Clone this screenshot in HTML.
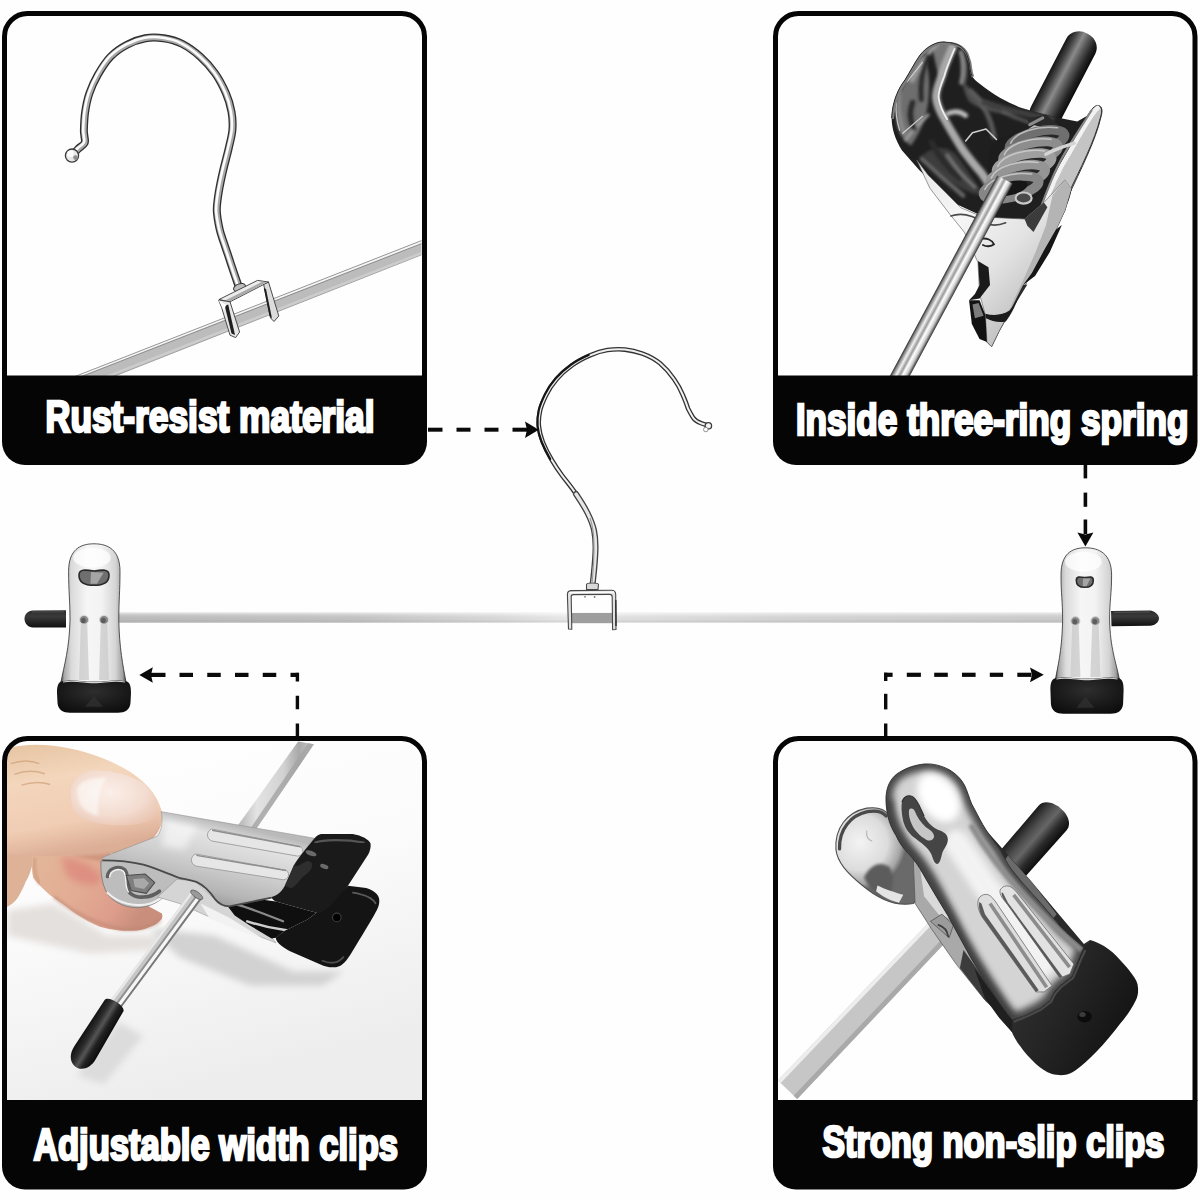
<!DOCTYPE html>
<html>
<head>
<meta charset="utf-8">
<title>Hanger features</title>
<style>
html,body{margin:0;padding:0;background:#fefefe;}
body{width:1200px;height:1200px;overflow:hidden;font-family:"Liberation Sans",sans-serif;}
svg{display:block;}
.lbl{font-family:"Liberation Sans",sans-serif;font-weight:bold;font-size:44.5px;fill:#fff;stroke:#fff;stroke-width:2.7px;stroke-linejoin:miter;stroke-miterlimit:2.5;}
</style>
</head>
<body>
<svg width="1200" height="1200" viewBox="0 0 1200 1200">
<defs>
  <clipPath id="c1"><rect x="7" y="16" width="415" height="360"/></clipPath>
  <clipPath id="c2"><rect x="778" y="16" width="414.500" height="360"/></clipPath>
  <clipPath id="c3"><rect x="7" y="741" width="415" height="360"/></clipPath>
  <clipPath id="c4"><rect x="778" y="741" width="414.500" height="360"/></clipPath>
  
  <linearGradient id="barG" x1="118" y1="0" x2="1062" y2="0" gradientUnits="userSpaceOnUse">
    <stop offset="0" stop-color="#c0c0c0"/><stop offset="0.25" stop-color="#c8c8c8"/><stop offset="0.4" stop-color="#dedede"/><stop offset="0.475" stop-color="#eeeeee"/><stop offset="0.53" stop-color="#e6e6e6"/><stop offset="0.7" stop-color="#dadada"/><stop offset="1" stop-color="#d0d0d0"/>
  </linearGradient>
  <linearGradient id="barV" x1="0" y1="0" x2="0" y2="1">
    <stop offset="0" stop-color="#fff" stop-opacity="0.55"/><stop offset="0.25" stop-color="#fff" stop-opacity="0.1"/><stop offset="0.7" stop-color="#000" stop-opacity="0.03"/><stop offset="1" stop-color="#fff" stop-opacity="0.35"/>
  </linearGradient>
  <linearGradient id="clipBody" x1="0" y1="0" x2="1" y2="0">
    <stop offset="0" stop-color="#4a4a4a"/><stop offset="0.05" stop-color="#a9a9a9"/><stop offset="0.16" stop-color="#dadada"/><stop offset="0.4" stop-color="#f6f6f6"/><stop offset="0.62" stop-color="#f3f3f3"/><stop offset="0.84" stop-color="#d4d4d4"/><stop offset="0.95" stop-color="#a0a0a0"/><stop offset="1" stop-color="#3c3c3c"/>
  </linearGradient>
  <linearGradient id="capG" x1="0" y1="0" x2="0" y2="1">
    <stop offset="0" stop-color="#2b2b2b"/><stop offset="0.35" stop-color="#3a3a3a"/><stop offset="1" stop-color="#101010"/>
  </linearGradient>
  <radialGradient id="footG" cx="0.5" cy="0.35" r="0.7">
    <stop offset="0" stop-color="#2e2e2e"/><stop offset="1" stop-color="#0d0d0d"/>
  </radialGradient>
  <filter id="soft" x="-5%" y="-5%" width="110%" height="110%"><feGaussianBlur stdDeviation="0.45"/></filter>

  <linearGradient id="p2rod" x1="0" y1="0" x2="1" y2="0">
    <stop offset="0" stop-color="#2a2a2a"/><stop offset="0.12" stop-color="#8c8c8c"/><stop offset="0.3" stop-color="#f2f2f2"/><stop offset="0.48" stop-color="#9a9a9a"/><stop offset="0.62" stop-color="#ffffff"/><stop offset="0.8" stop-color="#d0d0d0"/><stop offset="0.93" stop-color="#6a6a6a"/><stop offset="1" stop-color="#2a2a2a"/>
  </linearGradient>
  <linearGradient id="p2handle" x1="0" y1="0" x2="1" y2="0">
    <stop offset="0" stop-color="#141414"/><stop offset="0.2" stop-color="#444"/><stop offset="0.42" stop-color="#8a8a8a"/><stop offset="0.6" stop-color="#5a5a5a"/><stop offset="0.82" stop-color="#262626"/><stop offset="1" stop-color="#0b0b0b"/>
  </linearGradient>
  <linearGradient id="p2face" x1="300" y1="520" x2="700" y2="900" gradientUnits="userSpaceOnUse">
    <stop offset="0" stop-color="#e9e9e9"/><stop offset="0.35" stop-color="#f6f6f6"/><stop offset="0.7" stop-color="#e2e2e2"/><stop offset="1" stop-color="#c4c4c4"/>
  </linearGradient>
  <linearGradient id="p2right" x1="640" y1="600" x2="800" y2="680" gradientUnits="userSpaceOnUse">
    <stop offset="0" stop-color="#f0f0f0"/><stop offset="0.45" stop-color="#c9c9c9"/><stop offset="0.8" stop-color="#8a8a8a"/><stop offset="1" stop-color="#3a3a3a"/>
  </linearGradient>
  <radialGradient id="p2dark" cx="380" cy="330" r="330" gradientUnits="userSpaceOnUse">
    <stop offset="0" stop-color="#2c2c2c"/><stop offset="0.6" stop-color="#151515"/><stop offset="1" stop-color="#0a0a0a"/>
  </radialGradient>
  <linearGradient id="p2coil" x1="0" y1="0" x2="0" y2="1">
    <stop offset="0" stop-color="#5a5a5a"/><stop offset="0.3" stop-color="#c8c8c8"/><stop offset="0.55" stop-color="#8a8a8a"/><stop offset="1" stop-color="#2a2a2a"/>
  </linearGradient>
  <filter id="b2" x="-10%" y="-10%" width="120%" height="120%"><feGaussianBlur stdDeviation="2.2"/></filter>
  <filter id="b4" x="-10%" y="-10%" width="120%" height="120%"><feGaussianBlur stdDeviation="5"/></filter>
  <filter id="b8" x="-20%" y="-20%" width="140%" height="140%"><feGaussianBlur stdDeviation="10"/></filter>

  <linearGradient id="p3bg" x1="0" y1="0" x2="0.3" y2="1">
    <stop offset="0" stop-color="#ffffff"/><stop offset="0.5" stop-color="#fbfbfb"/><stop offset="1" stop-color="#ededee"/>
  </linearGradient>
  <linearGradient id="p3thumb" x1="0" y1="0" x2="0.25" y2="1">
    <stop offset="0" stop-color="#e6c4a2"/><stop offset="0.35" stop-color="#f3d6bc"/><stop offset="0.75" stop-color="#f0cdb4"/><stop offset="1" stop-color="#dcae96"/>
  </linearGradient>
  <radialGradient id="p3nail" cx="0.45" cy="0.4" r="0.7">
    <stop offset="0" stop-color="#fbefe9"/><stop offset="0.6" stop-color="#f3dcd0"/><stop offset="1" stop-color="#e9c2ae"/>
  </radialGradient>
  <linearGradient id="p3finger" x1="0" y1="0" x2="1" y2="0.4">
    <stop offset="0" stop-color="#e3b899"/><stop offset="0.5" stop-color="#e2ab93"/><stop offset="0.8" stop-color="#dd9d8b"/><stop offset="1" stop-color="#c98f7c"/>
  </linearGradient>
  <linearGradient id="p3metal" x1="560" y1="230" x2="500" y2="480" gradientUnits="userSpaceOnUse">
    <stop offset="0" stop-color="#b9b9b9"/><stop offset="0.15" stop-color="#e3e3e3"/><stop offset="0.45" stop-color="#cfcfcf"/><stop offset="0.75" stop-color="#b4b4b4"/><stop offset="1" stop-color="#858585"/>
  </linearGradient>
  <linearGradient id="p3rodA" x1="0" y1="0" x2="1" y2="0">
    <stop offset="0" stop-color="#b5b5b5"/><stop offset="0.25" stop-color="#e3e3e3"/><stop offset="0.6" stop-color="#d2d2d2"/><stop offset="0.8" stop-color="#a9a9a9"/><stop offset="1" stop-color="#c8c8c8"/>
  </linearGradient>
  <linearGradient id="p3rodB" x1="0" y1="0" x2="1" y2="0">
    <stop offset="0" stop-color="#8d8d8d"/><stop offset="0.2" stop-color="#dadada"/><stop offset="0.5" stop-color="#fafafa"/><stop offset="0.75" stop-color="#c4c4c4"/><stop offset="1" stop-color="#6d6d6d"/>
  </linearGradient>
  <linearGradient id="p3cap" x1="0" y1="0" x2="1" y2="0">
    <stop offset="0" stop-color="#101010"/><stop offset="0.3" stop-color="#2c2c2c"/><stop offset="0.5" stop-color="#555"/><stop offset="0.7" stop-color="#222"/><stop offset="1" stop-color="#0a0a0a"/>
  </linearGradient>

  <linearGradient id="p4jaw" x1="330" y1="300" x2="640" y2="120" gradientUnits="userSpaceOnUse">
    <stop offset="0" stop-color="#5a5a5a"/><stop offset="0.08" stop-color="#a2a2a2"/><stop offset="0.25" stop-color="#d6d6d6"/><stop offset="0.55" stop-color="#f4f4f4"/><stop offset="0.8" stop-color="#dcdcdc"/><stop offset="0.95" stop-color="#9a9a9a"/><stop offset="1" stop-color="#555"/>
  </linearGradient>
  <linearGradient id="p4jaw2" x1="520" y1="640" x2="820" y2="460" gradientUnits="userSpaceOnUse">
    <stop offset="0" stop-color="#666"/><stop offset="0.1" stop-color="#b7b7b7"/><stop offset="0.3" stop-color="#e9e9e9"/><stop offset="0.6" stop-color="#f2f2f2"/><stop offset="0.85" stop-color="#c9c9c9"/><stop offset="1" stop-color="#7a7a7a"/>
  </linearGradient>
  <radialGradient id="p4back" cx="250" cy="300" r="130" gradientUnits="userSpaceOnUse">
    <stop offset="0" stop-color="#f3f3f3"/><stop offset="0.6" stop-color="#dcdcdc"/><stop offset="0.88" stop-color="#a6a6a6"/><stop offset="1" stop-color="#6a6a6a"/>
  </radialGradient>
  <linearGradient id="p4rod" x1="0" y1="0" x2="1" y2="0">
    <stop offset="0" stop-color="#b9b9b9"/><stop offset="0.15" stop-color="#e6e6e6"/><stop offset="0.5" stop-color="#d3d3d3"/><stop offset="0.85" stop-color="#c2c2c2"/><stop offset="1" stop-color="#8f8f8f"/>
  </linearGradient>
  <linearGradient id="p4handle" x1="0" y1="0" x2="1" y2="0">
    <stop offset="0" stop-color="#1a1a1a"/><stop offset="0.3" stop-color="#4d4d4d"/><stop offset="0.5" stop-color="#666"/><stop offset="0.75" stop-color="#2b2b2b"/><stop offset="1" stop-color="#0c0c0c"/>
  </linearGradient>
  <linearGradient id="p4rub" x1="700" y1="700" x2="1000" y2="860" gradientUnits="userSpaceOnUse">
    <stop offset="0" stop-color="#2e2e2e"/><stop offset="0.4" stop-color="#242424"/><stop offset="1" stop-color="#121212"/>
  </linearGradient>
  <clipPath id="p4jawclip"><path d="M324 170 C326 135 345 112 363 103 C385 90 405 84 430 81 C456 79 480 86 502 98 C524 112 540 130 548 152 C556 172 560 190 569 204 C580 224 590 245 603 265 C615 285 628 302 642 321 C650 335 656 348 664 360 C675 378 686 392 698 405 C715 425 735 446 753 466 C772 488 790 510 809 533 C830 556 850 570 876 594 L865 617 L854 645 L843 673 L809 700 L793 717 L782 740 L754 762 L709 784 L675 795 L642 751 L603 690 L564 628 L530 566 L497 505 L463 449 L430 393 C415 365 400 345 385 330 C372 316 360 300 352 281 C340 262 330 240 326 210 C324 195 323 182 324 170 Z"/></clipPath>
  <clipPath id="p2intclip"><path d="M200 350 C203 290 225 250 243 227 C260 200 275 170 292 146 C305 130 318 120 331 113.500 C345 106 358 103 370 104 C390 105 408 108 421.600 116.700 C432 124 440 134 444.300 146 C450 160 453 175 454 188 C455 198 457 206 460.500 214 C468 225 476 233 486.500 240 C505 255 528 270 551 285 C575 298 598 309 622 318 C682 336 742 350 802 362 L840 340 L800 430 L730 560 L670 690 L640 700 L520 680 L400 625 L290 520 L233 455 C212 420 200 385 200 350 Z"/></clipPath>
  <!--DEFS-->
</defs>
<rect x="0" y="0" width="1200" height="1200" fill="#fefefe"/>

<!-- ===== centre hanger ===== -->
<g id="hanger">
<rect x="118" y="612.6" width="944" height="10.4" fill="url(#barG)"/>
<rect x="118" y="612.6" width="944" height="10.4" fill="url(#barV)"/>
<rect x="571" y="613" width="41.5" height="10.2" fill="#9e9e9e"/>
<path d="M708.1 425.6 C705 424.6 703 424 701 423.2 C697 421.6 694.5 419.8 693 417.5 C690.5 413.5 689.5 411.5 688 408.5 C686 402 684.5 399 682.6 394.5 C680 388 677.5 384 674 379 C670 373 666 368.5 660 363.3 C654.5 358.8 649 356 642.5 353.6 C636.5 351.5 631 350.2 625 349.6 C619 349 613.5 349.2 607.5 350.1 C601.5 351 596 352.8 590 355.4 C584 358 578 361 572.5 365 C566.5 369.3 561.5 373.5 556.8 379 C552.5 384 549 389 546.3 394.8 C543.5 400.5 541.4 405 540.1 410.5 C538.9 416 538.4 421 538.9 426.3 C539.4 432 540.8 437 542.8 442 C545.2 448 548 453.5 551.5 459.5 C555 465.5 558 470 562 475.3 C567 482 571 486.5 576 494 C581 501.5 584 506 587.5 513 C591 520 592.6 524 594 530 C595.6 537.5 595.8 545 595.4 553 C595 562 594.2 570 593.2 579 L592.5 585" fill="none" stroke="#333333" stroke-width="4.6" stroke-linecap="round"/>
<path d="M708.1 425.6 C705 424.6 703 424 701 423.2 C697 421.6 694.5 419.8 693 417.5 C690.5 413.5 689.5 411.5 688 408.5 C686 402 684.5 399 682.6 394.5 C680 388 677.5 384 674 379 C670 373 666 368.5 660 363.3 C654.5 358.8 649 356 642.5 353.6 C636.5 351.5 631 350.2 625 349.6 C619 349 613.5 349.2 607.5 350.1 C601.5 351 596 352.8 590 355.4 C584 358 578 361 572.5 365 C566.5 369.3 561.5 373.5 556.8 379 C552.5 384 549 389 546.3 394.8 C543.5 400.5 541.4 405 540.1 410.5 C538.9 416 538.4 421 538.9 426.3 C539.4 432 540.8 437 542.8 442 C545.2 448 548 453.5 551.5 459.5 C555 465.5 558 470 562 475.3 C567 482 571 486.5 576 494 C581 501.5 584 506 587.5 513 C591 520 592.6 524 594 530 C595.6 537.5 595.8 545 595.4 553 C595 562 594.2 570 593.2 579 L592.5 585" fill="none" stroke="#f0f0f0" stroke-width="2.0" stroke-linecap="round"/>
<path d="M590 355.4 C584 358 578 361 572.500 365 C566.500 369.300 561.500 373.500 556.800 379 C552.500 384 549 389 546.300 394.800 C543.500 400.500 541.400 405 540.100 410.500 C538.900 416 538.400 421 538.900 426.300 C539.400 432 540.800 437 542.800 442 C545.200 448 548 453.500 551.500 459.500" fill="none" stroke="#161616" stroke-width="2.2" stroke-linecap="round" transform="translate(-1.3,-0.5)"/>
<path d="M576 494 C581 501.5 584 506 587.5 513 C591 520 592.6 524 594 530 C595.6 537.5 595.8 545 595.4 553 C595 562 594.2 570 593.2 579 L592.6 584" fill="none" stroke="#444" stroke-width="6.0" stroke-linecap="round"/>
<path d="M576 494 C581 501.5 584 506 587.5 513 C591 520 592.6 524 594 530 C595.6 537.5 595.8 545 595.4 553 C595 562 594.2 570 593.2 579 L592.6 584" fill="none" stroke="#e6e6e6" stroke-width="3.3" stroke-linecap="round"/>
<path d="M590 518 C593 526 594.2 536 594 550 C593.8 562 593 572 592.2 582" fill="none" stroke="#9a9a9a" stroke-width="1.1"/>
<circle cx="708.4" cy="425.8" r="3.2" fill="#f3f3f3" stroke="#3d3d3d" stroke-width="1.3"/>
<circle cx="705.8" cy="429.5" r="2.3" fill="#fafafa" stroke="#8a8a8a" stroke-width="0.9"/>
<path d="M586.5 584.5 C586.5 582.5 598.5 582.5 598.5 584.5 L598 589.5 L586.5 589.5 Z" fill="#d9d9d9" stroke="#4a4a4a" stroke-width="1.1"/>
<path d="M568.5 629 L567.4 594.5 C567.3 591.8 568.6 590.8 571 590.6 L611.5 590.2 C614.6 590.2 615.6 591.6 615.7 594.2 L616 629.5 L612.6 629.8 L612.2 597 C612.2 595 611.5 594.4 609.6 594.4 L573.4 594.6 C571.8 594.6 571.2 595.2 571.2 596.8 L571.8 629.2 Z" fill="#e2e2e2" stroke="#474747" stroke-width="1.1" stroke-linejoin="round"/>
<path d="M569.2 592.6 L614 592.2" stroke="#ffffff" stroke-width="1.3" fill="none"/>
<path d="M615.8 600 L616 626" stroke="#2f2f2f" stroke-width="1.4" fill="none"/>
<circle cx="585" cy="596.8" r="0.9" fill="#777"/><circle cx="594.6" cy="597" r="0.9" fill="#777"/>
<path d="M66 610.2 L33 610.4 C28 610.4 24.5 614 24.5 618.8 C24.5 623.6 28 627.4 33 627.4 L66 627.6 Z" fill="url(#capG)"/>
<path d="M1111 611 L1150 610.6 C1154 610.6 1158.5 614.5 1159 618 C1159 622 1155 625.6 1150 625.8 L1111.5 626.2 Z" fill="url(#capG)"/>
<path d="M1114 612.4 L1150 612" stroke="#5a5a5a" stroke-width="1" fill="none" opacity="0.8"/>
<path d="M32 612 L64 611.8" stroke="#555" stroke-width="1" fill="none" opacity="0.8"/>
<path d="M68.6,571.5 C68.6,549.8 79.9,543.8 94,543.8 C108.1,543.8 120,549.8 120,571.5 C120,591.5 118.8,600.0 118.8,620.0 C119.3,648.0 123,666 126,682 L61,682 C64,666 69.5,648.0 70,620.0 C70,600.0 68.6,591.5 68.6,571.5 Z" fill="url(#clipBody)" stroke="#2d2d2d" stroke-width="0.8"/>
<ellipse cx="92" cy="557.8" rx="18.7" ry="10" fill="#ffffff" opacity="0.75"/>
<path d="M80.8,622.8 L79,680 L89,680 L87.2,622.8 Z" fill="#c9c9c9" opacity="0.75"/>
<ellipse cx="84" cy="619.8" rx="4.6" ry="4.4" fill="#8a8a8a" stroke="#d8d8d8" stroke-width="1"/>
<ellipse cx="83.4" cy="620.4" rx="2.4" ry="2.6" fill="#5d5d5d"/>
<path d="M100.8,622.8 L99,680 L109,680 L107.2,622.8 Z" fill="#c9c9c9" opacity="0.75"/>
<ellipse cx="104" cy="619.8" rx="4.6" ry="4.4" fill="#8a8a8a" stroke="#d8d8d8" stroke-width="1"/>
<ellipse cx="103.4" cy="620.4" rx="2.4" ry="2.6" fill="#5d5d5d"/>
<path d="M79.0,575.175 C79.0,568.975 85.0,569.75 94,570.99 C103.0,569.75 109.0,568.975 109.0,575.175 C109.0,582.925 101.5,585.25 94,585.25 C86.5,585.25 79.0,582.925 79.0,575.175 Z" fill="#6f6f6f" stroke="#2a2a2a" stroke-width="1.6"/>
<path d="M91.0,572.075 L103.6,572.85 L97.0,583.7 L90.4,583.7 Z" fill="#a5a5a5"/>
<path d="M61,681.5 C75.5,678.5 86.6,683 94.0,682 C101.4,683 112.5,678.5 127,681.5 C130.5,683 131,688 131,693 L130.5,702.8 C130,709.8 125,712.8 118,712.8 L70,712.8 C63,712.8 58,709.8 57.5,702.8 L57,693 C57,688 57.5,683 61,681.5 Z" fill="url(#footG)"/>
<path d="M63,682 C75.5,679.5 86.6,683.5 94.0,682.5 C101.4,683.5 112.5,679.5 125,682" fill="none" stroke="#e8e8e8" stroke-width="1.1" opacity="0.9"/>
<path d="M85,706.8 L94,695.8 L103,706.8 Z" fill="#2f2f2f" opacity="0.8"/>
<path d="M1061,575.0999999999999 C1061,553.8 1071.5,547.8 1085.4,547.8 C1099.3,547.8 1111.6,553.8 1111.6,575.0999999999999 C1111.6,595.0999999999999 1109.6,600.0 1109.6,620.0 C1110.1,648.0 1116.3,663 1119.3,679 L1055.5,679 C1058.5,663 1062.1,648.0 1062.6,620.0 C1062.6,600.0 1061,595.0999999999999 1061,575.0999999999999 Z" fill="url(#clipBody)" stroke="#2d2d2d" stroke-width="0.8"/>
<ellipse cx="1083.4" cy="561.8" rx="18.3" ry="10" fill="#ffffff" opacity="0.75"/>
<path d="M1072.2,624 L1070.4,677 L1080.4,677 L1078.6000000000001,624 Z" fill="#c9c9c9" opacity="0.75"/>
<ellipse cx="1075.4" cy="621" rx="4.6" ry="4.4" fill="#8a8a8a" stroke="#d8d8d8" stroke-width="1"/>
<ellipse cx="1074.8000000000002" cy="621.6" rx="2.4" ry="2.6" fill="#5d5d5d"/>
<path d="M1092.2,624 L1090.4,677 L1100.4,677 L1098.6000000000001,624 Z" fill="#c9c9c9" opacity="0.75"/>
<ellipse cx="1095.4" cy="621" rx="4.6" ry="4.4" fill="#8a8a8a" stroke="#d8d8d8" stroke-width="1"/>
<ellipse cx="1094.8000000000002" cy="621.6" rx="2.4" ry="2.6" fill="#5d5d5d"/>
<path d="M1076.3,580.425 C1076.3,576.225 1079.7,576.75 1084.8,577.59 C1089.8999999999999,576.75 1093.3,576.225 1093.3,580.425 C1093.3,585.675 1089.05,587.25 1084.8,587.25 C1080.55,587.25 1076.3,585.675 1076.3,580.425 Z" fill="#6f6f6f" stroke="#2a2a2a" stroke-width="1.6"/>
<path d="M1083.1,578.325 L1090.24,578.85 L1086.5,586.2 L1082.76,586.2 Z" fill="#a5a5a5"/>
<path d="M1054.4,678.5 C1068.7,675.5 1079.68,680 1087.0,679 C1094.32,680 1105.3,675.5 1119.6,678.5 C1123.1,680 1123.6,685 1123.6,690 L1123.1,703.8 C1122.6,710.8 1117.6,713.8 1110.6,713.8 L1063.4,713.8 C1056.4,713.8 1051.4,710.8 1050.9,703.8 L1050.4,690 C1050.4,685 1050.9,680 1054.4,678.5 Z" fill="url(#footG)"/>
<path d="M1056.4,679 C1068.7,676.5 1079.68,680.5 1087.0,679.5 C1094.32,680.5 1105.3,676.5 1117.6,679" fill="none" stroke="#e8e8e8" stroke-width="1.1" opacity="0.9"/>
<path d="M1076.4,707.8 L1085.4,696.8 L1094.4,707.8 Z" fill="#2f2f2f" opacity="0.8"/>
</g>

<!-- ===== dashed arrows ===== -->
<g id="arrows" fill="#0a0a0a" stroke="none">
<rect x="428" y="427.70" width="14.50" height="4"/>
<rect x="456.5" y="427.70" width="14.00" height="4"/>
<rect x="484.5" y="427.70" width="14.00" height="4"/>
<rect x="512.5" y="427.70" width="14.50" height="4"/>
<path d="M525 421.5 L538.8 429.7 L525 438 L527 429.7 Z"/>
<rect x="1083.60" y="464" width="3.6" height="14.40"/>
<rect x="1083.60" y="492.6" width="3.6" height="14.20"/>
<rect x="1083.60" y="519.5" width="3.6" height="14.50"/>
<path d="M1077.4 532.5 L1085.4 546.6 L1093.4 532.5 L1085.4 534.5 Z"/>
<rect x="151" y="672.80" width="14.50" height="4.2"/>
<rect x="179.5" y="672.80" width="13.50" height="4.2"/>
<rect x="207.25" y="672.80" width="13.50" height="4.2"/>
<rect x="235" y="672.80" width="13.50" height="4.2"/>
<rect x="262.75" y="672.80" width="13.50" height="4.2"/>
<rect x="290.5" y="672.80" width="8.50" height="4.2"/>
<rect x="295.70" y="672.8" width="3.4" height="8.70"/>
<rect x="295.70" y="695.75" width="3.4" height="13.50"/>
<rect x="295.70" y="723.5" width="3.4" height="14.00"/>
<path d="M152.8 667.2 L139.3 674.9 L152.8 682.7 L151 674.9 Z"/>
<rect x="884" y="672.70" width="8.60" height="4.2"/>
<rect x="906.8" y="672.70" width="14.10" height="4.2"/>
<rect x="934.2" y="672.70" width="13.60" height="4.2"/>
<rect x="962" y="672.70" width="13.60" height="4.2"/>
<rect x="989.8" y="672.70" width="13.30" height="4.2"/>
<rect x="1017.3" y="672.70" width="14.20" height="4.2"/>
<rect x="884.00" y="672.7" width="3.4" height="8.30"/>
<rect x="884.00" y="693.8" width="3.4" height="15.60"/>
<rect x="884.00" y="723.5" width="3.4" height="14.00"/>
<path d="M1030 667.6 L1043.8 674.8 L1030 682.2 L1032 674.8 Z"/>
</g>

<!-- ===== photo 1 ===== -->
<g clip-path="url(#c1)"><g>
<path d="M66 380 L421.5 240.6 L421.5 254.8 L104.5 380 Z" fill="#bcbcbc"/>
<path d="M66 380 L421.5 240.6 L421.5 243.4 L72 380 Z" fill="#f4f4f4"/>
<path d="M66 380 L421.5 240.6" stroke="#8f8f8f" stroke-width="0.9" fill="none"/>
<path d="M72.5 380 L421.5 243.6" stroke="#7d7d7d" stroke-width="0.8" fill="none"/>
<path d="M104.5 380 L421.5 254.8" stroke="#9c9c9c" stroke-width="0.9" fill="none"/>
<path d="M95 380 L421.5 251.8 L421.5 254.4 L102 380 Z" fill="#cfcfcf" opacity="0.8"/>
<path d="M263.5 283.5 L268.5 282 L278.8 316 L274 321.5 L270.5 318 Z" fill="#dcdcdc" stroke="#3a3a3a" stroke-width="0.9" stroke-linejoin="round"/>
<path d="M263.8 288 L269.5 316 L272 318.5 L266 289 Z" fill="#1e1e1e"/>
<path d="M74.5 153.0 C75.1 152.3 76.3 150.7 78.0 149.0 C79.7 147.3 83.5 145.2 84.6 143.0 C85.7 140.8 84.5 138.2 84.4 136.0 C84.3 133.8 83.8 134.1 83.9 130.0 C84.0 126.0 84.3 117.8 85.2 111.7 C86.1 105.6 87.3 99.4 89.4 93.3 C91.5 87.2 94.2 81.1 97.7 75.0 C101.2 68.9 105.6 61.7 110.5 56.7 C115.4 51.7 121.2 47.8 127.0 44.8 C132.8 41.7 139.2 39.4 145.3 38.3 C151.4 37.2 157.6 37.4 163.7 38.3 C169.8 39.2 175.9 40.7 182.0 43.8 C188.1 46.9 194.8 51.8 200.3 56.7 C205.8 61.6 210.7 67.1 215.0 73.2 C219.3 79.3 223.2 86.9 226.0 93.3 C228.8 99.7 230.4 105.6 231.5 111.7 C232.6 117.8 232.9 123.9 232.4 130.0 C231.9 136.1 230.2 141.6 228.7 148.3 C227.2 155.0 224.9 163.0 223.2 170.3 C221.5 177.6 219.8 185.6 218.7 192.3 C217.6 199.0 216.7 204.6 216.8 210.7 C217.0 216.8 218.5 223.8 219.6 229.0 C220.7 234.2 222.0 237.2 223.6 242.0 C225.2 246.8 227.2 252.5 229.0 258.0 C230.8 263.5 233.1 270.4 234.7 275.1 C236.3 279.8 237.9 284.2 238.5 286.0" fill="none" stroke="#2f2f2f" stroke-width="8" stroke-linecap="round" stroke-linejoin="round"/>
<path d="M74.5 153.0 C75.1 152.3 76.3 150.7 78.0 149.0 C79.7 147.3 83.5 145.2 84.6 143.0 C85.7 140.8 84.5 138.2 84.4 136.0 C84.3 133.8 83.8 134.1 83.9 130.0 C84.0 126.0 84.3 117.8 85.2 111.7 C86.1 105.6 87.3 99.4 89.4 93.3 C91.5 87.2 94.2 81.1 97.7 75.0 C101.2 68.9 105.6 61.7 110.5 56.7 C115.4 51.7 121.2 47.8 127.0 44.8 C132.8 41.7 139.2 39.4 145.3 38.3 C151.4 37.2 157.6 37.4 163.7 38.3 C169.8 39.2 175.9 40.7 182.0 43.8 C188.1 46.9 194.8 51.8 200.3 56.7 C205.8 61.6 210.7 67.1 215.0 73.2 C219.3 79.3 223.2 86.9 226.0 93.3 C228.8 99.7 230.4 105.6 231.5 111.7 C232.6 117.8 232.9 123.9 232.4 130.0 C231.9 136.1 230.2 141.6 228.7 148.3 C227.2 155.0 224.9 163.0 223.2 170.3 C221.5 177.6 219.8 185.6 218.7 192.3 C217.6 199.0 216.7 204.6 216.8 210.7 C217.0 216.8 218.5 223.8 219.6 229.0 C220.7 234.2 222.0 237.2 223.6 242.0 C225.2 246.8 227.2 252.5 229.0 258.0 C230.8 263.5 233.1 270.4 234.7 275.1 C236.3 279.8 237.9 284.2 238.5 286.0" fill="none" stroke="#a9a9a9" stroke-width="5.4" stroke-linecap="round" stroke-linejoin="round"/>
<path d="M74.5 153.0 C75.1 152.3 76.3 150.7 78.0 149.0 C79.7 147.3 83.5 145.2 84.6 143.0 C85.7 140.8 84.5 138.2 84.4 136.0 C84.3 133.8 83.8 134.1 83.9 130.0 C84.0 126.0 84.3 117.8 85.2 111.7 C86.1 105.6 87.3 99.4 89.4 93.3 C91.5 87.2 94.2 81.1 97.7 75.0 C101.2 68.9 105.6 61.7 110.5 56.7 C115.4 51.7 121.2 47.8 127.0 44.8 C132.8 41.7 139.2 39.4 145.3 38.3 C151.4 37.2 157.6 37.4 163.7 38.3 C169.8 39.2 175.9 40.7 182.0 43.8 C188.1 46.9 194.8 51.8 200.3 56.7 C205.8 61.6 210.7 67.1 215.0 73.2 C219.3 79.3 223.2 86.9 226.0 93.3 C228.8 99.7 230.4 105.6 231.5 111.7 C232.6 117.8 232.9 123.9 232.4 130.0 C231.9 136.1 230.2 141.6 228.7 148.3 C227.2 155.0 224.9 163.0 223.2 170.3 C221.5 177.6 219.8 185.6 218.7 192.3 C217.6 199.0 216.7 204.6 216.8 210.7 C217.0 216.8 218.5 223.8 219.6 229.0 C220.7 234.2 222.0 237.2 223.6 242.0 C225.2 246.8 227.2 252.5 229.0 258.0 C230.8 263.5 233.1 270.4 234.7 275.1 C236.3 279.8 237.9 284.2 238.5 286.0" fill="none" stroke="#fbfbfb" stroke-width="2.6" stroke-linecap="round" stroke-linejoin="round" transform="translate(-0.7,-0.5)"/>
<circle cx="72" cy="155.6" r="6.6" fill="#e9e9e9" stroke="#3a3a3a" stroke-width="1.3"/>
<circle cx="70.4" cy="153.8" r="3.2" fill="#ffffff"/>
<circle cx="75.5" cy="157.6" r="2.3" fill="#8d8d8d"/>
<ellipse cx="239.5" cy="287.5" rx="6.2" ry="3.6" transform="rotate(-20 239.5 287.5)" fill="#bdbdbd" stroke="#333" stroke-width="1"/>
<path d="M219 299.5 L257.5 280.4 L268.6 282 L230 301.8 Z" fill="#ececec" stroke="#3a3a3a" stroke-width="0.9" stroke-linejoin="round"/>
<path d="M225 300.5 L262.5 281.6 L266.5 282.3 L229.5 301.4 Z" fill="#a9a9a9"/>
<path d="M218.6 300 L230 301.8 L239.6 332 L235.6 337.6 L230 335.2 L221.6 307.5 Z" fill="#e6e6e6" stroke="#3a3a3a" stroke-width="0.9" stroke-linejoin="round"/>
<path d="M224.8 306 L231.5 333.5 L235 335 L228.2 304.5 Z" fill="#1e1e1e"/>
<path d="M218.6 300 L224 311 L226 305 Z" fill="#fff"/>
</g></g>
<!-- ===== photo 2 ===== -->
<g clip-path="url(#c2)"><g transform="translate(830,10) scale(0.308333)">
<g transform="rotate(27.5 760 220)"><rect x="707" y="58" width="106" height="340" rx="52" ry="46" fill="url(#p2handle)"/></g>
<path d="M872 310 C884 314 884 330 878 350 C862 420 815 515 770 610 C758 640 770 640 782 582 L762 650 L733 712 L694 780 L655 853 L616 921 L582 980 L548 1043 L524 1092 L509 1077 L600 700 L700 540 L790 420 L840 335 C852 316 862 307 872 310 Z" fill="#c4c4c4" stroke="#2b2b2b" stroke-width="3"/>
<path d="M200 350 C203 290 225 250 243 227 C260 200 275 170 292 146 C305 130 318 120 331 113.500 C345 106 358 103 370 104 C390 105 408 108 421.600 116.700 C432 124 440 134 444.300 146 C450 160 453 175 454 188 C455 198 457 206 460.500 214 C468 225 476 233 486.500 240 C505 255 528 270 551 285 C575 298 598 309 622 318 C682 336 742 350 802 362 L840 340 L800 430 L730 560 L670 690 L640 700 L520 680 L400 625 L290 520 L233 455 C212 420 200 385 200 350 Z" fill="#1f1f1f"/>
<g clip-path="url(#p2intclip)">
<g filter="url(#b4)">
<path d="M215 350 C215 280 250 200 300 150 C320 175 325 230 320 280 C318 330 300 390 262 440 C235 420 215 390 215 350 Z" fill="#6e6e6e"/>
<path d="M330 120 C360 96 395 92 415 110 C395 150 375 200 362 250 C350 210 340 160 330 120 Z" fill="#777"/>
<path d="M425 140 C445 160 450 200 440 240 C470 280 520 310 600 335 C560 340 500 330 455 300 C430 270 420 200 425 140 Z" fill="#4d4d4d"/>
<path d="M300 470 C340 440 380 440 410 470 C440 510 470 560 500 600 C450 600 380 560 300 470 Z" fill="#3d3d3d"/>
</g>
<g filter="url(#b4)" fill="none" stroke-linecap="round" stroke-linejoin="round">
<path d="M397 122 C380 160 368 190 363 212 C352 240 342 262 344 285 C348 315 360 336 373 357 C392 392 412 424 431 454 C452 482 470 505 490 527 C500 540 510 556 519 572" stroke="#a9a9a9" stroke-width="26"/>
<path d="M352 104 C325 130 292 172 266 228" stroke="#9c9c9c" stroke-width="16"/>
<path d="M318 150 C300 190 292 240 296 290" stroke="#2c2c2c" stroke-width="16"/>
<path d="M226 262 C218 305 222 350 240 398" stroke="#8a8a8a" stroke-width="14"/>
<path d="M246 420 C272 384 296 360 318 340" stroke="#a0a0a0" stroke-width="10"/>
<path d="M268 300 C258 326 258 356 272 382" stroke="#2a2a2a" stroke-width="18"/>
<path d="M424 136 C436 164 436 204 426 236" stroke="#868686" stroke-width="14"/>
<path d="M385 335 C405 326 425 330 440 342" stroke="#bdbdbd" stroke-width="16"/>
<path d="M455 262 C500 302 522 352 532 410" stroke="#5a5a5a" stroke-width="16"/>
<path d="M298 482 C340 522 382 560 432 602" stroke="#676767" stroke-width="14"/>
<path d="M330 430 C350 470 380 510 420 545" stroke="#2b2b2b" stroke-width="20"/>
<path d="M500 300 C560 320 640 340 720 352" stroke="#3f3f3f" stroke-width="18"/>
<path d="M560 330 C600 350 640 365 680 372" stroke="#5a5a5a" stroke-width="10"/>
<path d="M380 470 C400 500 430 540 470 575" stroke="#7a7a7a" stroke-width="10"/>
</g>
<g filter="url(#b2)" fill="none" stroke-linecap="round" stroke-linejoin="round">
<path d="M404 126 C388 164 376 192 371 214 C360 242 351 262 352 284 C356 312 366 332 380 354" stroke="#ededed" stroke-width="6"/>
<path d="M440 425 L462 398 L506 386 L540 420" stroke="#cfcfcf" stroke-width="5"/>
<path d="M250 232 L300 170" stroke="#d0d0d0" stroke-width="4"/>
<path d="M236 400 L300 345" stroke="#cfcfcf" stroke-width="4"/>
<path d="M215 300 C212 330 216 360 226 390" stroke="#c4c4c4" stroke-width="4"/>
</g>
</g>
<path d="M200 350 C203 290 225 250 243 227 C260 200 275 170 292 146 C305 130 318 120 331 113.500 C345 106 358 103 370 104 C390 105 408 108 421.600 116.700 C432 124 440 134 444.300 146 C450 160 453 175 454 188 C455 198 457 206 460.500 214" fill="none" stroke="#7d7d7d" stroke-width="9" transform="translate(3,3)"/>
<path d="M200 350 C203 290 225 250 243 227 C260 200 275 170 292 146 C305 130 318 120 331 113.500 C345 106 358 103 370 104 C390 105 408 108 421.600 116.700 C432 124 440 134 444.300 146 C450 160 453 175 454 188 C455 198 457 206 460.500 214" fill="none" stroke="#222" stroke-width="3"/>
<path d="M640 352 L700 340 L740 372 L716 420 L660 420 Z" fill="#2a2a2a"/>
<path d="M632 392 L662 372 L690 378 L690 408 L660 430 Z" fill="#bdbdbd" stroke="#1c1c1c" stroke-width="3"/>
<path d="M648 372 L690 350" stroke="#8b8b8b" stroke-width="10" stroke-linecap="round"/>
<path d="M690 420 L720 400 L700 455 Z" fill="#e4e4e4"/>
<g>
<ellipse cx="628" cy="505" rx="118" ry="104" transform="rotate(28 628 505)" fill="#1d1d1d"/>
<ellipse cx="672.0" cy="428.0" rx="104" ry="42" transform="rotate(-14 672.0 428.0)" fill="#272727" stroke="#1a1a1a" stroke-width="4"/>
<ellipse cx="672.0" cy="426.0" rx="92" ry="31" transform="rotate(-14 672.0 428.0)" fill="none" stroke="#6f6f6f" stroke-width="31"/>
<path d="M586.0 432.0 C602.0 394.0 678.0 374.0 738.0 382.0" fill="none" stroke="#d4d4d4" stroke-width="5" stroke-linecap="round" opacity="0.75"/>
<ellipse cx="651.0" cy="465.5" rx="104" ry="42" transform="rotate(-14 651.0 465.5)" fill="#272727" stroke="#1a1a1a" stroke-width="4"/>
<ellipse cx="651.0" cy="463.5" rx="92" ry="31" transform="rotate(-14 651.0 465.5)" fill="none" stroke="#8d8d8d" stroke-width="31"/>
<path d="M565.0 469.5 C581.0 431.5 657.0 411.5 717.0 419.5" fill="none" stroke="#d4d4d4" stroke-width="5" stroke-linecap="round" opacity="0.75"/>
<ellipse cx="630.0" cy="503.0" rx="104" ry="42" transform="rotate(-14 630.0 503.0)" fill="#272727" stroke="#1a1a1a" stroke-width="4"/>
<ellipse cx="630.0" cy="501.0" rx="92" ry="31" transform="rotate(-14 630.0 503.0)" fill="none" stroke="#9f9f9f" stroke-width="31"/>
<path d="M544.0 507.0 C560.0 469.0 636.0 449.0 696.0 457.0" fill="none" stroke="#d4d4d4" stroke-width="5" stroke-linecap="round" opacity="0.75"/>
<ellipse cx="609.0" cy="540.5" rx="104" ry="42" transform="rotate(-14 609.0 540.5)" fill="#272727" stroke="#1a1a1a" stroke-width="4"/>
<ellipse cx="609.0" cy="538.5" rx="92" ry="31" transform="rotate(-14 609.0 540.5)" fill="none" stroke="#959595" stroke-width="31"/>
<path d="M523.0 544.5 C539.0 506.5 615.0 486.5 675.0 494.5" fill="none" stroke="#d4d4d4" stroke-width="5" stroke-linecap="round" opacity="0.75"/>
<ellipse cx="588.0" cy="578.0" rx="104" ry="42" transform="rotate(-14 588.0 578.0)" fill="#272727" stroke="#1a1a1a" stroke-width="4"/>
<ellipse cx="588.0" cy="576.0" rx="92" ry="31" transform="rotate(-14 588.0 578.0)" fill="none" stroke="#868686" stroke-width="31"/>
<path d="M502.0 582.0 C518.0 544.0 594.0 524.0 654.0 532.0" fill="none" stroke="#d4d4d4" stroke-width="5" stroke-linecap="round" opacity="0.75"/>
<ellipse cx="586" cy="578" rx="56" ry="22" transform="rotate(-14 586 578)" fill="#161616"/>
<ellipse cx="628" cy="610" rx="26" ry="18" fill="#4a4a4a" stroke="#c9c9c9" stroke-width="7"/>
</g>
<path d="M868 318 C850 330 812 400 772 470 C742 520 718 570 694 636" fill="none" stroke="#f2f2f2" stroke-width="15" stroke-linecap="round"/>
<path d="M848 326 C820 372 772 440 742 500 C722 540 702 590 684 640" fill="none" stroke="#858585" stroke-width="7" stroke-linecap="round"/>
<path d="M700 468 C730 452 760 442 792 432" fill="none" stroke="#d4d4d4" stroke-width="11" stroke-linecap="round"/>
<path d="M874 312 C884 318 882 334 876 352 C860 420 812 515 768 606" fill="none" stroke="#2a2a2a" stroke-width="3"/>
<path d="M281 486 L318 535 L368 585 L424 641 L473 662 L511 672 L631 678 L694 624 L762 551 L782 580 L762 649 L733 712 L694 780 L655 853 L616 921 L582 980 L548 1043 L524 1092 L509 1077 L504 989 L485 921 L480 819 L436 721 L386 659 L324 578 Z" fill="url(#p2face)" stroke="#5a5a5a" stroke-width="2"/>
<g filter="url(#b2)">
<path d="M722 600 L762 551 L782 580 L762 649 L733 712 L694 780 L655 853 L616 921 L582 980 L548 1043 L575 985 L620 890 L665 790 L700 700 Z" fill="#b4b4b4"/>
<path d="M631 678 L694 624 L705 640 L660 720 L640 700 Z" fill="#3a3a3a"/>
</g>
<path d="M733 712 L752 697 L713 785 L665 863 L626 892 L655 853 L694 780 Z" fill="#161616"/>
<path d="M626 892 L640 890 L582 985 L548 1043 L582 980 Z" fill="#2c2c2c"/>
<path d="M480 814 L514 834 L519 892 L485 936 L451 941 L470 921 L485 892 Z" fill="#1a1a1a"/>
<path d="M451 941 L485 941 L504 989 L509 1077 L485 1067 L460 1018 Z" fill="#121212"/>
<path d="M462 955 L482 950 L498 992 L470 1000 Z" fill="#7c7c7c" filter="url(#b2)"/>
<path d="M504 985 C530 992 560 990 582 975 C596 960 606 940 616 921 C605 950 590 985 570 1010 C550 1015 525 1010 506 1000 Z" fill="#1c1c1c" filter="url(#b2)"/>
<path d="M392 668 C430 655 470 670 500 690 C520 700 545 700 570 690" fill="none" stroke="#4a4a4a" stroke-width="5" stroke-linecap="round"/>
<path d="M440 740 C452 745 462 745 470 742" fill="none" stroke="#333" stroke-width="6" stroke-linecap="round"/>
<path d="M490 742 C508 738 526 746 532 760 C522 768 506 768 496 762" fill="none" stroke="#262626" stroke-width="6" stroke-linecap="round"/>
<g transform="translate(428.1 810.8) rotate(28.2)"><rect x="-28.5" y="-296" width="57" height="800" fill="url(#p2rod)"/></g>
</g></g>
<!-- ===== photo 3 ===== -->
<g clip-path="url(#c3)"><g transform="translate(0,735) scale(0.358333)">
<rect x="0" y="0" width="1200" height="1040" fill="url(#p3bg)"/>
<g filter="url(#b8)">
<path d="M420 540 L600 560 L820 660 L960 660 L900 700 L700 700 L500 620 Z" fill="#d2d2d2"/>
<path d="M20 490 L150 470 L300 560 L460 560 L420 600 L250 610 L20 560 Z" fill="#e4e0dd"/>
<path d="M215 950 L330 800 L400 840 L290 975 Z" fill="#dcdcdc"/>
</g>
<path d="M832 18 L876 26 L715 262 L664 252 Z" fill="url(#p3rodA)"/>
<path d="M860 23 L876 26 L715 262 L700 259 Z" fill="#a4a4a4" opacity="0.8"/>
<path d="M14 320 L96 320 C92 365 84 390 72 409 C64 428 57 444 48 456 C40 468 28 476 14 482 Z" fill="#ddb296"/>
<path d="M90 320 L300 320 L360 400 L400 470 L452 498 C455 508 452 514 447 518 C438 528 430 532 419 535 C404 542 388 546 372 546.500 C356 547 340 546 326 544 C310 542 294 539 279 535 C262 528 247 520 233 512 C216 502 200 491 186 479 C170 468 155 458 140 447 C122 432 106 416 93 399 C88 380 88 356 90 336 Z" fill="url(#p3finger)"/>
<path d="M96 345 C94 370 98 395 110 415" fill="none" stroke="#b98468" stroke-width="7" stroke-linecap="round" opacity="0.55" filter="url(#b4)"/>
<path d="M170 340 C215 345 260 360 285 400 C270 430 220 420 185 390 Z" fill="#d9736f" opacity="0.5" filter="url(#b8)"/>
<path d="M150 452 C200 492 260 526 330 540 C380 548 425 536 448 516" fill="none" stroke="#b78470" stroke-width="10" opacity="0.5" filter="url(#b4)"/>
<path d="M14 38 C50 28 100 24 150 30 C220 38 290 62 345 92 C400 122 440 165 452 215 C458 250 440 285 400 308 C360 328 300 334 200 338 C120 340 60 336 14 332 Z" fill="url(#p3thumb)"/>
<g filter="url(#b2)" fill="none" stroke="#c9986f" stroke-width="4" opacity="0.6"><path d="M30 80 C60 70 90 72 110 80"/><path d="M40 110 C70 98 100 100 125 108"/><path d="M60 140 C90 130 115 130 140 138"/></g>
<path d="M198 168 C196 130 215 104 250 100 C300 95 360 108 400 135 C432 158 445 195 436 222 C425 246 385 252 330 252 C280 252 235 240 212 222 C202 210 199 190 198 168 Z" fill="url(#p3nail)"/>
<path d="M215 150 C225 125 260 118 300 120 C280 135 270 180 275 225 C245 220 215 200 215 150 Z" fill="#fff" opacity="0.55" filter="url(#b4)"/>
<path d="M200 338 C300 334 360 328 400 308 C430 292 448 268 452 240 C445 300 380 345 280 352 Z" fill="#c98d74" opacity="0.7" filter="url(#b4)"/>
<path d="M282 352 C300 345 360 350 420 365 C460 378 500 395 515 408 L470 440 C450 462 420 482 380 482 C340 480 312 462 298 440 C284 415 280 380 282 352 Z" fill="#bdbdbd" stroke="#6f6f6f" stroke-width="2"/>
<path d="M300 395 C302 372 330 364 348 376 C362 390 350 420 362 440 C380 458 420 456 445 436" fill="none" stroke="#5f5f5f" stroke-width="10" stroke-linecap="round"/>
<path d="M306 396 C308 378 330 370 344 380 C356 392 346 420 358 438" fill="none" stroke="#f1f1f1" stroke-width="4" stroke-linecap="round"/>
<path d="M352 392 L405 388 L432 412 L408 442 L366 434 Z" fill="#7e7e7e" stroke="#4c4c4c" stroke-width="3"/>
<path d="M372 402 L402 400 L416 414 L402 430 L376 424 Z" fill="#a9a9a9"/>
<path d="M300 440 C330 470 380 482 420 470 C445 462 462 446 475 436" fill="none" stroke="#efefef" stroke-width="6" stroke-linecap="round"/>
<path d="M494 402 L544 408 L607 465 L638 477 L695 528 L758 565 L770 580 L670 542 L576 504 L500 470 L440 452 Z" fill="#d5d5d5" stroke="#8a8a8a" stroke-width="1.5"/>
<path d="M560 470 L640 510 L740 572 L770 580 L670 548 L585 512 Z" fill="#f2f2f2"/>
<path d="M628 468 L682 452 L770 465 L883 496 L858 515 L795 546 L770 566 L758 568 L695 530 L655 504 Z" fill="#0f0f0f"/>
<path d="M650 470 C690 480 740 500 790 520" fill="none" stroke="#8a8a8a" stroke-width="6" stroke-linecap="round" filter="url(#b2)"/>
<path d="M690 520 C720 530 760 540 800 545" fill="none" stroke="#cfcfcf" stroke-width="7" stroke-linecap="round" filter="url(#b2)"/>
<path d="M971 421 L1022 427 C1050 436 1062 450 1058 470 C1056 486 1040 510 984 603 C968 630 955 646 938 648 C920 650 905 645 896 641 L808 603 C785 590 768 575 770 565 L795 546 L858 515 L883 496 Z" fill="#141414"/>
<path d="M985 440 C1015 445 1040 455 1048 470" fill="none" stroke="#5a5a5a" stroke-width="5" stroke-linecap="round" filter="url(#b2)"/>
<path d="M900 630 C925 640 945 636 958 620" fill="none" stroke="#4d4d4d" stroke-width="5" stroke-linecap="round" filter="url(#b2)"/>
<circle cx="940" cy="509" r="12" fill="#000" stroke="#3f3f3f" stroke-width="3"/>
<path d="M534.500 435.300 L563.500 456.700 L332.500 768.700 L303.500 747.300 Z" fill="#c6c6c6"/>
<path d="M534.500 435.300 L540 439.400 L309 751.400 L303.500 747.300 Z" fill="#e9e9e9"/>
<path d="M552 448.200 L559.500 453.700 L328.500 765.700 L321 760.200 Z" fill="#f6f6f6"/>
<path d="M559.500 453.700 L563.500 456.700 L332.500 768.700 L328.500 765.700 Z" fill="#777"/>
<path d="M548 445.200 L552 448.200 L321 760.200 L317 757.200 Z" fill="#8f8f8f"/>
<ellipse cx="549" cy="446" rx="20" ry="8" transform="rotate(36 549 446)" fill="#9a9a9a" stroke="#555" stroke-width="2"/>
<g transform="translate(316 758) rotate(31.5)"><path d="M-30 -4 C-28 -20 28 -20 31 -4 L35 150 C37 214 -37 214 -35 150 Z" fill="url(#p3cap)"/></g>
<path d="M450 214 L877 288 C860 310 835 340 820 364 C810 390 800 410 795 421 C785 440 770 452 758 454 L640 478 C620 478 608 468 600 458 C585 436 570 420 548 410 C530 404 512 402 498 398 C470 388 440 374 400 362 C360 352 320 350 286 350 C282 346 286 340 300 336 L440 282 C452 262 455 240 450 214 Z" fill="url(#p3metal)" stroke="#8a8a8a" stroke-width="1.5"/>
<path d="M286 350 C320 350 360 352 400 362 C440 374 470 388 498 398 C512 402 530 404 548 410 C570 420 585 436 600 458 C608 468 620 478 640 478 L758 454" fill="none" stroke="#4a4a4a" stroke-width="5" stroke-linejoin="round"/>
<path d="M590 262 C575 270 575 290 592 296 L830 338 C845 338 850 322 840 312 Z" fill="#e6e6e6" stroke="#9a9a9a" stroke-width="2.5"/>
<path d="M592 266 L838 312" stroke="#8e8e8e" stroke-width="4" fill="none" filter="url(#b2)"/>
<path d="M545 332 C530 340 530 360 548 366 L790 404 C805 404 810 388 800 378 Z" fill="#e6e6e6" stroke="#9a9a9a" stroke-width="2.5"/>
<path d="M548 336 L798 378" stroke="#8e8e8e" stroke-width="4" fill="none" filter="url(#b2)"/>
<path d="M465 240 L550 255 L515 320 L450 310 Z" fill="#ffffff" opacity="0.55" filter="url(#b8)"/>
<path d="M877 289 C885 280 890 277 896 276 L984 276 C1010 280 1030 292 1034 302 C1036 312 1032 325 1028 333 L971 421 L921 477 C905 492 895 497 883 496 L770 465 C762 460 758 456 758 452 C775 450 790 432 795 421 L820 364 C835 340 860 310 877 289 Z" fill="#1a1a1a"/>
<path d="M880 300 C900 292 960 290 1015 300" fill="none" stroke="#555" stroke-width="6" stroke-linecap="round" filter="url(#b2)"/>
<g filter="url(#b2)" fill="#6a6a6a"><ellipse cx="868" cy="330" rx="16" ry="7" transform="rotate(20 868 330)"/><ellipse cx="905" cy="367" rx="12" ry="6" transform="rotate(20 905 367)"/><ellipse cx="825" cy="395" rx="14" ry="7" transform="rotate(20 825 395)"/></g>
<path d="M795 421 C805 400 812 385 820 364 C832 372 850 350 862 352 C880 356 870 380 850 392 C838 400 830 420 812 428 Z" fill="#2d2d2d" filter="url(#b2)"/>
</g></g>
<!-- ===== photo 4 ===== -->
<g clip-path="url(#c4)"><g transform="translate(770,735) scale(0.358333)">
<g transform="translate(742 285) rotate(41)"><path d="M-52 -70 C-52 -118 52 -118 52 -70 L50 120 L-50 120 Z" fill="url(#p4handle)"/></g>
<path d="M444 522 L498 570 L76 1016 L22 964 Z" fill="#c6c6c6"/>
<path d="M444 522 L452 529 L30 971 L22 964 Z" fill="#ededed"/>
<path d="M488 561 L498 570 L76 1016 L66 1007 Z" fill="#a5a5a5" opacity="0.9"/>
<path d="M184 320 C180 260 215 215 270 204 C300 200 320 206 330 222 L352 272 L386 312 L430 345 L440 420 L400 470 C350 480 300 455 258 420 C215 385 188 355 184 320 Z" fill="url(#p4back)" stroke="#4e4e4e" stroke-width="3"/>
<path d="M262 398 C280 360 310 350 335 370 C350 400 345 440 320 455 C295 445 275 425 262 398 Z" fill="#5c5c5c" filter="url(#b4)"/>
<path d="M300 420 C320 430 350 440 372 446 L360 468 C335 462 312 450 296 436 Z" fill="#e4e4e4" filter="url(#b2)"/>
<path d="M194 318 C192 262 226 224 272 214 C296 210 314 214 324 226" fill="none" stroke="#4a4a4a" stroke-width="9" stroke-linecap="round" filter="url(#b2)"/>
<path d="M270 268 C268 282 274 292 284 296" fill="none" stroke="#b5b5b5" stroke-width="3" stroke-linecap="round"/>
<path d="M400 350 L470 400 L540 520 L640 690 L690 800 L676 812 L600 740 L520 640 L450 540 L405 470 Z" fill="#a9a9a9" stroke="#555" stroke-width="2"/>
<path d="M420 380 L470 420 L520 520 L470 500 L430 450 Z" fill="#dadada" filter="url(#b2)"/>
<path d="M540 600 L640 740 L688 805 L676 812 L600 740 L530 650 Z" fill="#3c3c3c"/>
<path d="M448 520 L480 500 L512 530 L500 566 Z" fill="#9b9b9b" stroke="#4a4a4a" stroke-width="2"/>
<path d="M470 530 C485 535 495 548 497 562" fill="none" stroke="#3f3f3f" stroke-width="5" stroke-linecap="round" filter="url(#b2)"/>
<path d="M600 262 L660 330 L726 405 L810 505 L876 583 L893 572 L865 617 L800 560 L700 440 L640 350 Z" fill="#2a2a2a"/>
<path d="M664 336 L730 410 L800 500 L790 512 L715 425 L655 350 Z" fill="#6a6a6a" filter="url(#b2)"/>
<path d="M324 170 C326 135 345 112 363 103 C385 90 405 84 430 81 C456 79 480 86 502 98 C524 112 540 130 548 152 C556 172 560 190 569 204 C580 224 590 245 603 265 C615 285 628 302 642 321 C650 335 656 348 664 360 C675 378 686 392 698 405 C715 425 735 446 753 466 C772 488 790 510 809 533 C830 556 850 570 876 594 L865 617 L854 645 L843 673 L809 700 L793 717 L782 740 L754 762 L709 784 L675 795 L642 751 L603 690 L564 628 L530 566 L497 505 L463 449 L430 393 C415 365 400 345 385 330 C372 316 360 300 352 281 C340 262 330 240 326 210 C324 195 323 182 324 170 Z" fill="#d4d4d4"/>
<g clip-path="url(#p4jawclip)">
<path d="M324 170 C326 135 345 112 363 103 C385 90 405 84 430 81 C456 79 480 86 502 98 C524 112 540 130 548 152 C556 172 560 190 569 204 C580 224 590 245 603 265 C615 285 628 302 642 321 C650 335 656 348 664 360 C675 378 686 392 698 405 C715 425 735 446 753 466 C772 488 790 510 809 533 C830 556 850 570 876 594 L865 617 L854 645 L843 673 L809 700 L793 717 L782 740 L754 762 L709 784 L675 795 L642 751 L603 690 L564 628 L530 566 L497 505 L463 449 L430 393 C415 365 400 345 385 330 C372 316 360 300 352 281 C340 262 330 240 326 210 C324 195 323 182 324 170 Z" fill="none" stroke="#454545" stroke-width="36" filter="url(#b8)"/>
<path d="M330 180 C335 230 350 270 380 310 C410 345 440 380 465 430 L530 566 L603 690 L675 795" fill="none" stroke="#3a3a3a" stroke-width="26" filter="url(#b8)" opacity="0.8"/>
<ellipse cx="470" cy="175" rx="50" ry="75" transform="rotate(-35 470 175)" fill="#ffffff" filter="url(#b8)"/>
<path d="M520 300 L600 420 L700 540 L760 640" fill="none" stroke="#f6f6f6" stroke-width="70" stroke-linecap="round" filter="url(#b8)" opacity="0.9"/>
<path d="M560 250 C600 320 660 400 740 480 C790 530 830 570 870 600" fill="none" stroke="#8c8c8c" stroke-width="16" filter="url(#b4)"/>
</g>
<path d="M324 170 C326 135 345 112 363 103 C385 90 405 84 430 81 C456 79 480 86 502 98 C524 112 540 130 548 152 C556 172 560 190 569 204 C580 224 590 245 603 265 C615 285 628 302 642 321 C650 335 656 348 664 360 C675 378 686 392 698 405 C715 425 735 446 753 466 C772 488 790 510 809 533 C830 556 850 570 876 594 L865 617 L854 645 L843 673 L809 700 L793 717 L782 740 L754 762 L709 784 L675 795 L642 751 L603 690 L564 628 L530 566 L497 505 L463 449 L430 393 C415 365 400 345 385 330 C372 316 360 300 352 281 C340 262 330 240 326 210 C324 195 323 182 324 170 Z" fill="none" stroke="#2e2e2e" stroke-width="2.5"/>
<path d="M368 187 C372 172 385 166 398 172 C412 180 420 205 430 226 C440 246 455 258 472 266 C490 272 498 282 496 296 C494 310 484 318 480 332 C476 348 474 358 466 360 C458 358 455 345 450 332 C440 312 420 300 402 286 C385 272 374 255 370 232 C367 215 366 200 368 187 Z" fill="#454545"/>
<path d="M388 209 C392 203 400 204 404 212 C410 228 420 244 436 258 C448 266 458 272 458 284 C456 294 446 297 436 292 C420 284 404 268 396 250 C390 236 386 222 388 209 Z" fill="#c6c6c6"/>
<path d="M368 187 C372 172 385 166 398 172 C412 180 420 205 430 226" fill="none" stroke="#2e2e2e" stroke-width="3"/>
<path d="M581 461 C585 448 598 442 610 446 C618 450 624 458 630 466 L787 700 L765 717 L742 717 L592 508 C582 492 578 474 581 461 Z" fill="#dedede" stroke="#5e5e5e" stroke-width="2"/>
<path d="M590 470 L600 500 L750 712 L742 717 L592 508 C584 494 582 480 584 466 Z" fill="#5a5a5a"/>
<path d="M614 470 L772 704" stroke="#8c8c8c" stroke-width="10" fill="none" filter="url(#b2)"/>
<path d="M642 433 C648 422 660 418 672 424 C682 430 688 438 694 446 L848 639 L837 667 L809 678 L662 472 C650 458 640 446 642 433 Z" fill="#e2e2e2" stroke="#5e5e5e" stroke-width="2"/>
<path d="M650 440 L664 468 L816 674 L809 678 L662 472 C652 460 646 450 646 440 Z" fill="#5a5a5a"/>
<path d="M680 446 L836 648" stroke="#8c8c8c" stroke-width="10" fill="none" filter="url(#b2)"/>
<path d="M893 572 C905 575 920 582 932 589 C950 600 965 614 977 628 C990 642 1002 655 1010 667 C1020 680 1027 692 1027 706 C1028 718 1026 730 1021 740 C1010 762 995 785 977 806 C955 834 935 860 910 885 C890 905 872 922 854 935 C842 943 832 948 820 949 C808 950 797 948 787 946 C770 940 755 930 742 918 C725 902 710 886 698 868 C688 855 680 842 675 829 C672 818 672 806 675 795 L709 784 L754 762 L782 740 L793 717 L809 700 L843 673 L854 645 L865 617 L876 594 Z" fill="url(#p4rub)"/>
<path d="M880 600 L870 622 L858 650 L846 678 L812 704 L796 722 L785 744 L757 766 L712 788 L680 800" fill="none" stroke="#4a4a4a" stroke-width="6" stroke-linejoin="round" filter="url(#b2)"/>
<ellipse cx="878" cy="786" rx="20" ry="16" fill="#0c0c0c"/><ellipse cx="872" cy="780" rx="9" ry="7" fill="#3b3b3b" filter="url(#b2)"/>
<path d="M570 650 L620 720 L660 776 L676 795 L676 830 L640 790 L600 735 Z" fill="#1f1f1f"/>
</g></g>

<!-- ===== frames ===== -->
<g id="frames">
  <path d="M4.500 376 V36.500 a23 23 0 0 1 23 -23 H401.500 a23 23 0 0 1 23 23 V376" fill="none" stroke="#050505" stroke-width="5"/>
  <path d="M2 375.500 H427 V442 a23 23 0 0 1 -23 23 H25 a23 23 0 0 1 -23 -23 Z" fill="#050505"/>
  <path d="M775.500 376 V36.500 a23 23 0 0 1 23 -23 H1172 a23 23 0 0 1 23 23 V376" fill="none" stroke="#050505" stroke-width="5"/>
  <path d="M773 375.500 H1197.500 V442 a23 23 0 0 1 -23 23 H796 a23 23 0 0 1 -23 -23 Z" fill="#050505"/>
  <path d="M4.500 1101 V761.500 a23 23 0 0 1 23 -23 H401.500 a23 23 0 0 1 23 23 V1101" fill="none" stroke="#050505" stroke-width="5"/>
  <path d="M2 1100 H427 V1166.500 a23 23 0 0 1 -23 23 H25 a23 23 0 0 1 -23 -23 Z" fill="#050505"/>
  <path d="M775.500 1101 V761.500 a23 23 0 0 1 23 -23 H1172 a23 23 0 0 1 23 23 V1101" fill="none" stroke="#050505" stroke-width="5"/>
  <path d="M773 1100 H1197.500 V1166.500 a23 23 0 0 1 -23 23 H796 a23 23 0 0 1 -23 -23 Z" fill="#050505"/>
</g>

<!-- ===== labels ===== -->
<g id="labels">
  <text class="lbl" x="45.5" y="431.5" textLength="329" lengthAdjust="spacingAndGlyphs"><tspan font-size="43.5">R</tspan>ust-resist material</text>
  <text class="lbl" x="796" y="434.5" textLength="392.5" lengthAdjust="spacingAndGlyphs"><tspan font-size="43.5">I</tspan>nside three-ring spring</text>
  <text class="lbl" x="33.5" y="1159.5" textLength="364.5" lengthAdjust="spacingAndGlyphs"><tspan font-size="43.5">A</tspan>djustable width clips</text>
  <text class="lbl" x="822.5" y="1157" textLength="342" lengthAdjust="spacingAndGlyphs"><tspan font-size="43.5">S</tspan>trong non-slip clips</text>
</g>
</svg>
</body>
</html>
